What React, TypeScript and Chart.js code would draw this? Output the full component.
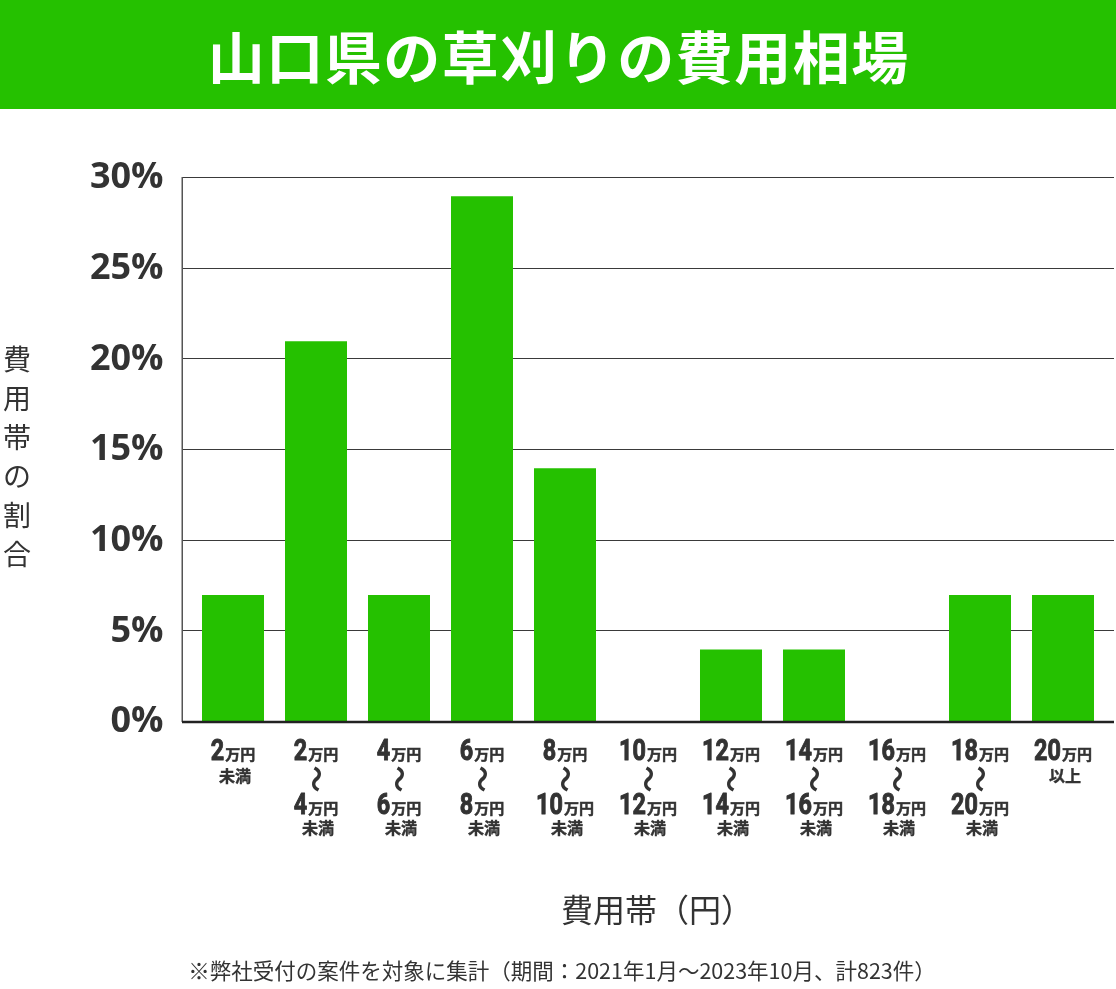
import React, { useEffect, useRef } from 'react';
import { Chart, registerables } from 'chart.js';

Chart.register(...registerables);

// ---- data ----
const categories = [
  '2万円未満', '2万円～4万円未満', '4万円～6万円未満', '6万円～8万円未満', '8万円～10万円未満',
  '10万円～12万円未満', '12万円～14万円未満', '14万円～16万円未満', '16万円～18万円未満',
  '18万円～20万円未満', '20万円以上',
];
const shares = [7, 21, 7, 29, 14, 0, 4, 4, 0, 7, 7];
const labelFrom = ['2', '2', '4', '6', '8', '10', '12', '14', '16', '18', '20'];
const labelTo = ['', '4', '6', '8', '10', '12', '14', '16', '18', '20', ''];
const labelNote = ['未満', '未満', '未満', '未満', '未満', '未満', '未満', '未満', '未満', '未満', '以上'];
const yMin = 0;
const yMax = 30;
const yStep = 5;

const titleText = '山口県の草刈りの費用相場';
const yTitle = '費用帯の割合';
const xTitle = '費用帯（円）';
const footnote = '※弊社受付の案件を対象に集計（期間：2021年1月～2023年10月、計823件）';

const GREEN = '#25C100';
const INK = '#333333';
const JP = '"Noto Sans CJK JP", "Noto Sans", sans-serif';
const NUM_FONT = `bold 30px Roboto, "Noto Sans", sans-serif`;
const UNIT_FONT = `bold 15px ${JP}`;

function drawAmount(ctx: CanvasRenderingContext2D, num: string, cx: number, base: number) {
  const sx = 0.78;
  ctx.font = NUM_FONT;
  const nw = ctx.measureText(num).width * sx;
  ctx.font = UNIT_FONT;
  const uw = ctx.measureText('万円').width;
  const gap = 1;
  const start = cx - (nw + gap + uw) / 2;
  ctx.save();
  ctx.translate(start, base);
  ctx.scale(sx, 1);
  ctx.font = NUM_FONT;
  ctx.textAlign = 'left';
  ctx.textBaseline = 'alphabetic';
  ctx.lineWidth = 1;
  ctx.lineJoin = 'round';
  ctx.fillText(num, 0, 0);
  ctx.strokeText(num, 0, 0);
  ctx.restore();
  ctx.font = UNIT_FONT;
  ctx.textAlign = 'left';
  ctx.textBaseline = 'alphabetic';
  ctx.lineWidth = 0.5;
  ctx.fillText('万円', start + nw + gap, base);
  ctx.strokeText('万円', start + nw + gap, base);
}

function drawNote(ctx: CanvasRenderingContext2D, txt: string, cx: number, base: number) {
  ctx.font = `bold 16px ${JP}`;
  ctx.textAlign = 'center';
  ctx.textBaseline = 'alphabetic';
  ctx.lineWidth = 0.4;
  ctx.fillText(txt, cx + 2, base);
  ctx.strokeText(txt, cx + 2, base);
}

function drawWave(ctx: CanvasRenderingContext2D, cx: number, cy: number) {
  ctx.save();
  ctx.translate(cx, cy);
  ctx.rotate(Math.PI / 2);
  ctx.font = `bold 27px ${JP}`;
  ctx.textAlign = 'center';
  ctx.textBaseline = 'middle';
  ctx.fillText('〜', 0, 0);
  ctx.restore();
}

const gridPlugin = {
  id: 'customGrid',
  beforeDatasetsDraw(chart: any) {
    const { ctx, chartArea } = chart;
    const ys = chart.scales.y;
    const left = chartArea.left - 9.5;
    const right = chartArea.right + 9.5;
    ctx.save();
    ctx.strokeStyle = '#3a3a3a';
    ctx.lineWidth = 1;
    ys.ticks.forEach((t: any) => {
      if (t.value === yMin) return;
      const py = Math.round(ys.getPixelForValue(t.value)) - 0.5;
      ctx.beginPath();
      ctx.moveTo(left, py);
      ctx.lineTo(right, py);
      ctx.stroke();
    });
    ctx.strokeStyle = '#555555';
    ctx.lineWidth = 1.5;
    ctx.beginPath();
    ctx.moveTo(Math.round(left) + 0.25, ys.getPixelForValue(yMax) - 1);
    ctx.lineTo(Math.round(left) + 0.25, ys.getPixelForValue(yMin));
    ctx.stroke();
    ctx.restore();
  },
  afterDatasetsDraw(chart: any) {
    const { ctx, chartArea } = chart;
    const ys = chart.scales.y;
    const left = chartArea.left - 9.5;
    const right = chartArea.right + 9.5;
    ctx.save();
    ctx.strokeStyle = '#222222';
    ctx.lineWidth = 2.5;
    const py = ys.getPixelForValue(yMin);
    ctx.beginPath();
    ctx.moveTo(left, py);
    ctx.lineTo(right, py);
    ctx.stroke();
    ctx.restore();
  },
  afterDraw(chart: any) {
    const { ctx } = chart;
    const xs = chart.scales.x;
    ctx.save();
    ctx.fillStyle = INK;
    ctx.strokeStyle = INK;
    categories.forEach((_c, i) => {
      const cx = xs.getPixelForValue(i);
      drawAmount(ctx, labelFrom[i], cx, 760);
      if (labelTo[i]) {
        drawWave(ctx, cx, 779);
        drawAmount(ctx, labelTo[i], cx, 814);
        drawNote(ctx, labelNote[i], cx, 834);
      } else {
        drawNote(ctx, labelNote[i], cx, 782);
      }
    });
    ctx.restore();
  },
};

export default function App() {
  const ref = useRef<HTMLCanvasElement | null>(null);

  useEffect(() => {
    document.body.style.margin = '0';
    const canvas = ref.current;
    if (!canvas) return;
    const chart = new Chart(canvas, {
      type: 'bar',
      data: {
        labels: categories,
        datasets: [
          {
            data: shares,
            backgroundColor: GREEN,
            borderWidth: 0,
            barPercentage: 0.747,
            categoryPercentage: 1,
          },
        ],
      },
      options: {
        responsive: false,
        animation: false,
        events: [],
        layout: { padding: { left: 0, right: 11.5, top: 178, bottom: 267 } },
        plugins: {
          legend: { display: false },
          tooltip: { enabled: false },
          title: { display: false },
        },
        scales: {
          x: { display: false },
          y: {
            min: yMin,
            max: yMax,
            grid: { display: false, drawTicks: false },
            border: { display: false },
            ticks: {
              stepSize: yStep,
              padding: 28,
              color: INK,
              font: { family: '"Open Sans", "Noto Sans", sans-serif', size: 36, weight: 'bold' },
              callback: (v: any) => `${v}%`,
            },
            afterFit: (s: any) => {
              s.width = 191.5;
            },
          },
        },
      },
      plugins: [gridPlugin],
    });
    return () => chart.destroy();
  }, []);

  return (
    <div style={{ position: 'relative', width: 1116, height: 989, background: '#fff', overflow: 'hidden' }}>
      <canvas ref={ref} width={1116} height={989} style={{ position: 'absolute', left: 0, top: 0, width: 1116, height: 989 }} />
      <div
        style={{
          position: 'absolute', left: 0, top: 0, width: 1116, height: 109, background: GREEN,
          color: '#fff', fontFamily: JP, fontWeight: 700, fontSize: 57, lineHeight: '109px',
          textAlign: 'center', letterSpacing: 1.5, paddingLeft: 1.5, boxSizing: 'border-box',
        }}
      >
        {titleText}
      </div>
      <div
        style={{
          position: 'absolute', left: 2, top: 339, width: 30, display: 'flex', flexDirection: 'column',
          alignItems: 'center', fontFamily: JP, fontSize: 28, color: INK,
        }}
      >
        {Array.from(yTitle).map((ch, i) => (
          <span key={i} style={{ height: 39, lineHeight: '39px' }}>{ch}</span>
        ))}
      </div>
      <div
        style={{
          position: 'absolute', left: 457, top: 887, width: 400, textAlign: 'center',
          fontFamily: JP, fontSize: 32, lineHeight: '42px', color: INK,
        }}
      >
        {xTitle}
      </div>
      <div
        style={{
          position: 'absolute', left: 112, top: 954, width: 900, textAlign: 'center',
          fontFamily: JP, fontSize: 21.5, lineHeight: '32px', color: INK,
        }}
      >
        {footnote}
      </div>
    </div>
  );
}
